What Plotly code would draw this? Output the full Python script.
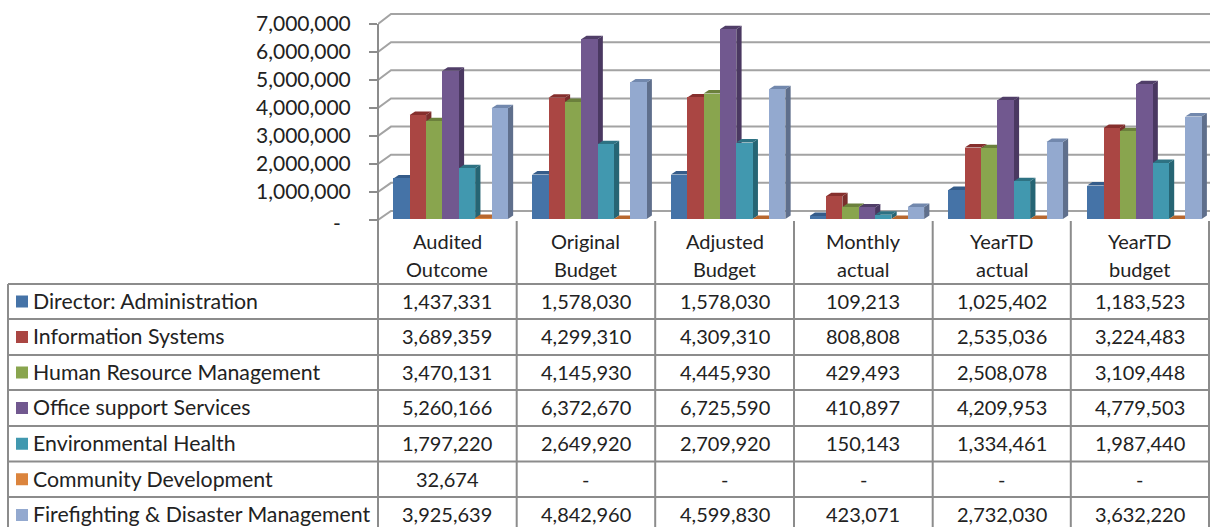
import plotly.graph_objects as go

# ---- data ----
periods = [["Audited", "Outcome"], ["Original", "Budget"], ["Adjusted", "Budget"],
           ["Monthly", "actual"], ["YearTD", "actual"], ["YearTD", "budget"]]
departments = ["Director: Administration", "Information Systems", "Human Resource Management",
               "Office support Services", "Environmental Health", "Community Development",
               "Firefighting & Disaster Management"]
director = [1437331, 1578030, 1578030, 109213, 1025402, 1183523]
information = [3689359, 4299310, 4309310, 808808, 2535036, 3224483]
human_resource = [3470131, 4145930, 4445930, 429493, 2508078, 3109448]
office_support = [5260166, 6372670, 6725590, 410897, 4209953, 4779503]
environmental = [1797220, 2649920, 2709920, 150143, 1334461, 1987440]
community = [32674, 0, 0, 0, 0, 0]
firefighting = [3925639, 4842960, 4599830, 423071, 2732030, 3632220]
series = [director, information, human_resource, office_support, environmental, community, firefighting]
axis_ticks = [0, 1000000, 2000000, 3000000, 4000000, 5000000, 6000000, 7000000]
axis_labels = ["", "1,000,000", "2,000,000", "3,000,000", "4,000,000", "5,000,000", "6,000,000", "7,000,000"]

# ---- styles ----
front = ["#4573a7", "#aa4643", "#89a54e", "#71588f", "#4198af", "#db843d", "#93a9cf"]
side = ["#2d5079", "#7a2e2c", "#5f7434", "#4a3861", "#266574", "#a85f28", "#5f6f8c"]
top = ["#355c8a", "#862f2d", "#6b803c", "#503e68", "#2e7283", "#b8672e", "#7288ad"]
FONT = "Lato"
SIZE = 20
LABEL_SIZE = 21.3
TICK_SIZE = 21
TXT = "#222222"
GRID = "#a3a3a3"
TABLE = "#8c8c8c"
W, H = 1210, 527

# ---- plot geometry ----
LEFT = 378.0      # chart area left, px
UNIT = 138.75     # one category, px
BASE = 219.0      # zero line, px
PX_PER_M = 28.2
BOTTOM = 226.0
PX = 1e6 / PX_PER_M   # data units per pixel
FRONT_SCALE = 28.0 / PX_PER_M
BACK_SCALE = 28.14 / PX_PER_M
WALL_DX, WALL_DY = 13 / UNIT, 8 * PX
BAR_W = 16.35 / UNIT
GROUP_L = 15.4 / UNIT
CAP_DX, CAP_DY = 5.3 / UNIT, 3.5 * PX

x_range = [0, (W - LEFT) / UNIT]
y_range = [-(BOTTOM - BASE) * PX, BASE * PX]
fig = go.Figure()

# walls and gridlines
gx, gy = [], []
for t in axis_ticks:
    gx += [0, WALL_DX, x_range[1], None]
    gy += [t * FRONT_SCALE - PX, t * BACK_SCALE + WALL_DY, t * BACK_SCALE + WALL_DY, None]
fig.add_trace(go.Scatter(x=gx, y=gy, mode="lines", line=dict(color=GRID, width=2),
                         hoverinfo="skip", showlegend=False))

# 3-D faces behind the fronts, left to right
for c in range(len(periods)):
    for s, values in enumerate(series):
        v = values[c]
        l = c + GROUP_L + s * BAR_W
        r = l + BAR_W
        fig.add_trace(go.Scatter(x=[r, r + CAP_DX, r + CAP_DX, r, r],
                                 y=[0, CAP_DY, v + CAP_DY, v, 0],
                                 fill="toself", fillcolor=side[s], mode="none",
                                 hoverinfo="skip", showlegend=False))
        fig.add_trace(go.Scatter(x=[l, r, r + CAP_DX, l + CAP_DX, l],
                                 y=[v, v, v + CAP_DY, v + CAP_DY, v],
                                 fill="toself", fillcolor=top[s], mode="none",
                                 hoverinfo="skip", showlegend=False))

# front faces on an overlaid subplot
for s, values in enumerate(series):
    fig.add_trace(go.Bar(x=[c + GROUP_L + (s + 0.5) * BAR_W for c in range(len(periods))],
                         y=values, width=BAR_W, name=departments[s],
                         marker=dict(color=front[s], line=dict(width=0)),
                         xaxis="x2", yaxis="y2", showlegend=False))

# ---- table ----
row_lines = [284, 319, 355, 390, 426, 461.5, 497, 533]
col_lines = [378, 516.7, 655.2, 794, 932.7, 1070.8, 1209]
TABLE_LEFT = 8


def px(v):
    return v / W


def py(v):
    return 1 - v / H


shapes, notes = [], []
for y in row_lines[:-1]:
    shapes.append(dict(type="line", xref="paper", yref="paper", x0=px(TABLE_LEFT), x1=px(W),
                       y0=py(y), y1=py(y), line=dict(color=TABLE, width=2)))
shapes.append(dict(type="line", xref="paper", yref="paper", x0=px(TABLE_LEFT), x1=px(TABLE_LEFT),
                   y0=py(284), y1=py(H), line=dict(color=TABLE, width=2)))
shapes.append(dict(type="line", xref="paper", yref="paper", x0=px(col_lines[0]), x1=px(col_lines[0]),
                   y0=py(24), y1=py(H), line=dict(color=TABLE, width=2)))
for x in col_lines[1:]:
    shapes.append(dict(type="line", xref="paper", yref="paper", x0=px(x), x1=px(x),
                       y0=py(BASE + 2), y1=py(H), line=dict(color=TABLE, width=2)))


def note(x, y, text, anchor="center", size=SIZE):
    notes.append(dict(xref="paper", yref="paper", x=px(x), y=py(y), text=text, showarrow=False,
                      xanchor=anchor, yanchor="middle", font=dict(family=FONT, size=size, color=TXT)))


note(337, 223, "-", size=TICK_SIZE)
for c, lines in enumerate(periods):
    cx = (col_lines[c] + col_lines[c + 1]) / 2
    note(cx, 241, lines[0])
    note(cx, 269, lines[1])

for s, name in enumerate(departments):
    cy = (row_lines[s] + row_lines[s + 1]) / 2
    shapes.append(dict(type="rect", xref="paper", yref="paper", x0=px(16), x1=px(28),
                       y0=py(cy - 6), y1=py(cy + 6), fillcolor=front[s], line=dict(width=0)))
    note(31, cy - 0.7, name, "left", LABEL_SIZE)
    for c in range(len(periods)):
        value = series[s][c]
        note((col_lines[c] + col_lines[c + 1]) / 2, cy - 0.7, f"{value:,}" if value else "-")

y_domain = [1 - BOTTOM / H, 1]
x_domain = [LEFT / W, 1]
fig.update_layout(
    width=W, height=H, margin=dict(l=0, r=0, t=0, b=0), autosize=False,
    paper_bgcolor="white", plot_bgcolor="white", barmode="overlay", bargap=0,
    shapes=shapes, annotations=notes,
    font=dict(family=FONT, size=SIZE, color=TXT),
    xaxis=dict(domain=x_domain, range=x_range, showgrid=False, zeroline=False, showticklabels=False, ticks=""),
    yaxis=dict(domain=y_domain, range=y_range, showgrid=False, zeroline=False,
               tickmode="array", tickvals=[t * FRONT_SCALE - PX for t in axis_ticks], ticktext=axis_labels,
               ticks="outside", ticklen=8, tickwidth=2, tickcolor=TABLE, ticklabelstandoff=14,
               tickfont=dict(family=FONT, size=TICK_SIZE, color=TXT), showline=False),
    xaxis2=dict(domain=x_domain, range=x_range, overlaying="x", visible=False),
    yaxis2=dict(domain=y_domain, range=y_range, overlaying="y", visible=False),
)
fig.write_html("out.html", post_script="document.body.style.margin='0';document.body.style.overflow='hidden';",
               config={"displayModeBar": False})
